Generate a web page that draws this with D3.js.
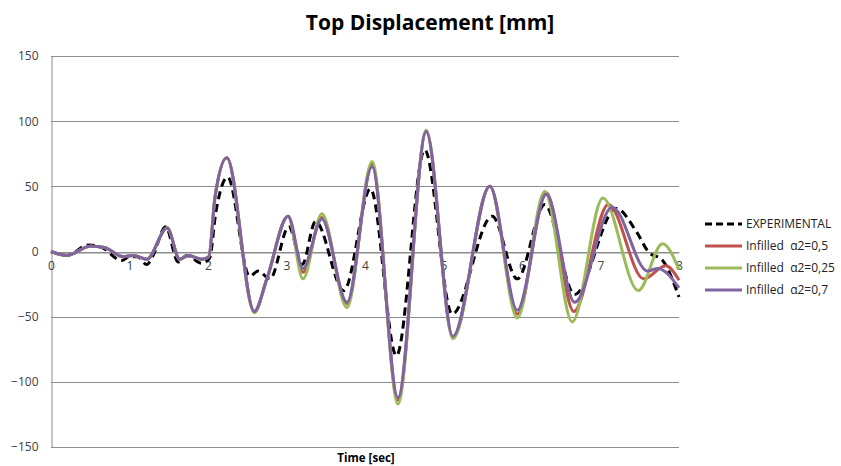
<!DOCTYPE html>
<html>
<head>
<meta charset="utf-8">
<script src="https://cdn.jsdelivr.net/npm/d3@7/dist/d3.min.js"></script>
<style>
  html, body { margin: 0; padding: 0; background: #fff; }
  svg { display: block; }
</style>
</head>
<body>
<svg id="chart" width="841" height="466"></svg>
<script>
// ---------------- DATA ----------------
const title = "Top Displacement [mm]";
const xAxisTitle = "Time [sec]";
const xTicks = [0, 1, 2, 3, 4, 5, 6, 7, 8];
const yTicks = [-150, -100, -50, 0, 50, 100, 150];
const seriesNames = ["EXPERIMENTAL", "Infilled  α2=0,5", "Infilled  α2=0,25", "Infilled  α2=0,7"];

const timeExperimental = [0, 0.2, 0.48, 0.65, 0.9, 1.0, 1.1, 1.22, 1.3, 1.46, 1.62, 1.73, 1.92, 2.02, 2.1, 2.25, 2.53, 2.64, 2.79, 3.03, 3.2, 3.37, 3.73, 4.07, 4.4, 4.76, 5.11, 5.62, 5.94, 6.29, 6.67, 7.2, 7.46, 7.62, 7.78, 8.0];
const experimental     = [0, -3, 5, 3, -7, -4, -4, -10, -3, 19, -8, -3, -9, -5, 30, 57, -19, -15, -21, 19, -10, 23, -30, 48, -80, 78, -48, 27, -21, 36, -33, 33, 15, -1, -6, -35];

const timeA05 = [0, 0.2, 0.5, 0.68, 0.92, 1.05, 1.22, 1.48, 1.64, 1.75, 1.92, 2.01, 2.09, 2.24, 2.59, 2.75, 3.02, 3.21, 3.45, 3.77, 4.09, 4.42, 4.78, 5.12, 5.59, 5.94, 6.31, 6.66, 7.1, 7.55, 7.83, 8.0];
const infilledA05 = [0, -3, 4, 3, -4, -3, -6, 18, -6, -3, -6, -4, 42, 72, -46, -21, 27, -16, 26, -40, 67, -114, 92, -66, 50, -48, 45, -46, 36, -21, -11, -22];

const timeA025 = [0, 0.2, 0.5, 0.68, 0.92, 1.05, 1.22, 1.48, 1.64, 1.75, 1.92, 2.01, 2.09, 2.24, 2.59, 2.75, 3.02, 3.21, 3.45, 3.77, 4.09, 4.42, 4.78, 5.12, 5.59, 5.94, 6.29, 6.64, 7.03, 7.48, 7.79, 8.0];
const infilledA025 = [0, -3, 4, 3, -4, -3, -6, 18, -6, -3, -6, -4, 42, 72, -47, -21, 27, -21, 29, -43, 69, -117, 93, -67, 50, -51, 46, -54, 41, -30, 6, -14];

const timeA07 = [0, 0.2, 0.5, 0.68, 0.92, 1.05, 1.22, 1.48, 1.64, 1.75, 1.92, 2.01, 2.09, 2.24, 2.59, 2.75, 3.02, 3.21, 3.45, 3.77, 4.09, 4.42, 4.78, 5.12, 5.59, 5.94, 6.31, 6.67, 7.15, 7.6, 7.73, 8.0];
const infilledA07 = [0, -3, 4, 3, -4, -3, -6, 18, -6, -3, -6, -4, 42, 72, -46, -21, 27, -13, 25, -39, 65, -112, 92, -65, 50, -45, 44, -39, 34, -15, -13, -28];

// ---------------- CHART ----------------
const svg = d3.select("#chart");
const margin = { left: 51, right: 841 - 679, top: 56, bottom: 466 - 447 };
const W = 841, H = 466;

const x = d3.scaleLinear().domain([0, 8]).range([margin.left, W - margin.right]);
const y = d3.scaleLinear().domain([-150, 150]).range([H - margin.bottom, margin.top]);

const gridColor = "#8c8c8c";
const textColor = "#404040";
const font = "'Open Sans', 'Liberation Sans', sans-serif";

// gridlines
svg.append("g")
  .selectAll("line")
  .data(yTicks)
  .join("line")
  .attr("x1", x(0)).attr("x2", x(8))
  .attr("y1", d => Math.round(y(d)) + 0.5).attr("y2", d => Math.round(y(d)) + 0.5)
  .attr("stroke", gridColor).attr("stroke-width", 1);

// y axis
const yAxis = d3.axisLeft(y).tickValues(yTicks).tickSize(0).tickPadding(13);
const gy = svg.append("g").attr("transform", `translate(${x(0) + 0.5},0)`).call(yAxis);
gy.select(".domain").attr("stroke", gridColor);
gy.selectAll("text").attr("fill", textColor).style("font-family", font).style("font-size", "12px");

// x axis at y = 0
const xAxis = d3.axisBottom(x).tickValues(xTicks).tickSize(0).tickPadding(9).tickFormat(d3.format("d"));
const gx = svg.append("g").attr("transform", `translate(0,${Math.round(y(0)) + 0.5})`).call(xAxis);
gx.select(".domain").attr("stroke", gridColor);
gx.selectAll("text").attr("fill", textColor).style("font-family", font).style("font-size", "12px");

// series
const line = d3.line().x(d => x(d[0])).y(d => y(d[1])).curve(d3.curveMonotoneX);
const zip = (t, v) => t.map((tt, i) => [tt, v[i]]);

const series = [
  { name: seriesNames[0], data: zip(timeExperimental, experimental), color: "#000000", dash: "8,5" },
  { name: seriesNames[1], data: zip(timeA05, infilledA05), color: "#C0504D", dash: null },
  { name: seriesNames[2], data: zip(timeA025, infilledA025), color: "#9BBB59", dash: null },
  { name: seriesNames[3], data: zip(timeA07, infilledA07), color: "#8064A2", dash: null }
];

svg.append("g")
  .selectAll("path")
  .data(series)
  .join("path")
  .attr("d", d => line(d.data))
  .attr("fill", "none")
  .attr("stroke", d => d.color)
  .attr("stroke-width", 3)
  .attr("stroke-linejoin", "round")
  .attr("stroke-dasharray", d => d.dash);

// title
svg.append("text")
  .attr("x", 430).attr("y", 30)
  .attr("text-anchor", "middle")
  .style("font-family", font).style("font-size", "21px").style("font-weight", "bold")
  .attr("fill", "#000")
  .text(title);

// x axis title
svg.append("text")
  .attr("x", 366).attr("y", 462)
  .attr("text-anchor", "middle")
  .style("font-family", font).style("font-size", "11.5px").style("font-weight", "bold")
  .attr("fill", "#000")
  .text(xAxisTitle);

// legend
const legend = svg.append("g").attr("transform", "translate(705,224)");
const li = legend.selectAll("g").data(series).join("g")
  .attr("transform", (d, i) => `translate(0,${i * 22})`);
li.append("line")
  .attr("x1", 0).attr("x2", 37).attr("y1", 0).attr("y2", 0)
  .attr("stroke", d => d.color).attr("stroke-width", 3)
  .attr("stroke-dasharray", d => d.dash ? "7,4" : null);
li.append("text")
  .attr("x", 41).attr("y", 0).attr("dy", "0.35em")
  .style("font-family", font).style("font-size", "12px")
  .style("white-space", "pre")
  .attr("fill", "#222")
  .text(d => d.name);
</script>
</body>
</html>
